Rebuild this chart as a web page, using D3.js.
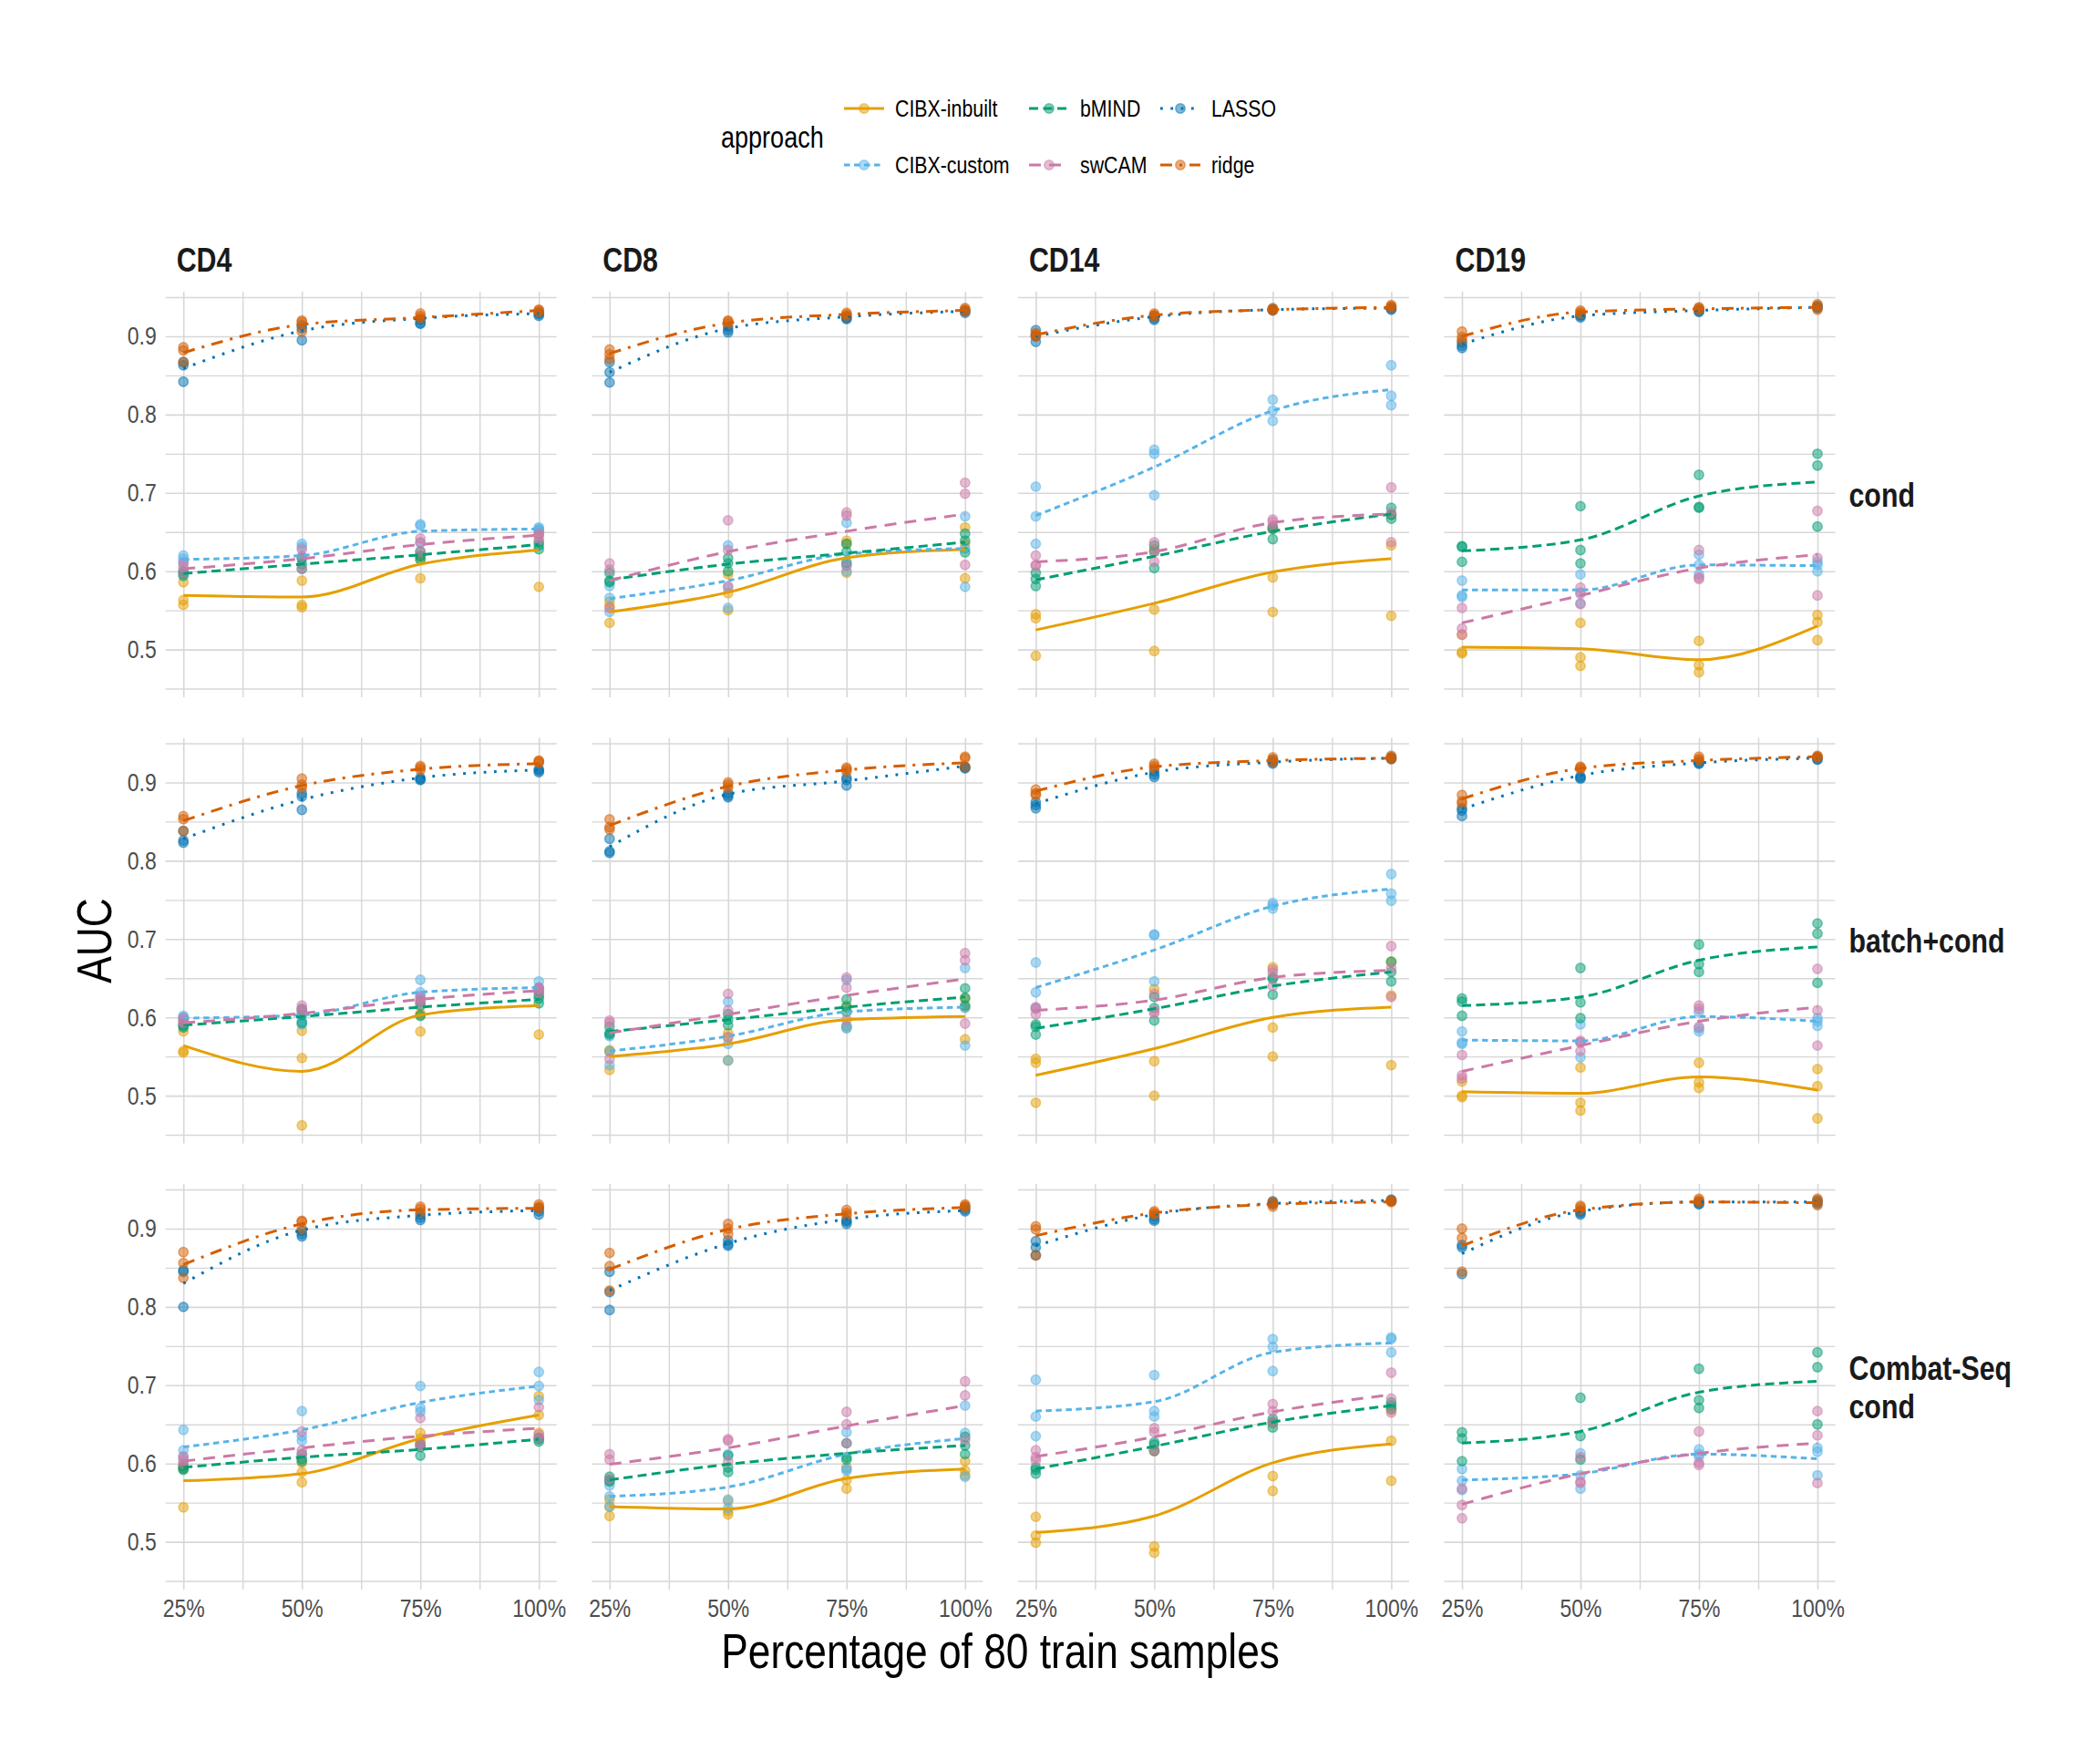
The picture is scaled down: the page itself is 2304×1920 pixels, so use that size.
<!DOCTYPE html>
<html>
<head>
<meta charset="utf-8">
<script src="https://cdn.jsdelivr.net/npm/d3@7"></script>
<style>
  body { margin: 0; background: #fff; }
  text { font-family: "Liberation Sans", Arial, sans-serif; }
</style>
</head>
<body>
<div id="chart"></div>
<script>
// facets and levels
const approaches = ['CIBX-inbuilt', 'CIBX-custom', 'bMIND', 'swCAM', 'LASSO', 'ridge'];
const cellTypes = ['CD4', 'CD8', 'CD14', 'CD19'];
const designs = [['cond'], ['batch+cond'], ['Combat-Seq', 'cond']];
const pctLevels = [25, 50, 75, 100];
const xTickLabels = ['25%', '50%', '75%', '100%'];
const yTicks = [0.5, 0.6, 0.7, 0.8, 0.9];

// points: one entry per panel (cond CD4..CD19, batch+cond CD4..CD19, Combat-Seq CD4..CD19),
// each with 3 replicate AUCs at 25/50/75/100 %
const inbuiltPts = [
  [[0.586,0.563,0.557],[0.588,0.557,0.554],[0.620,0.615,0.591],[0.652,0.648,0.580]],
  [[0.561,0.555,0.534],[0.596,0.572,0.550],[0.639,0.635,0.598],[0.656,0.635,0.591]],
  [[0.545,0.540,0.492],[0.628,0.551,0.498],[0.654,0.592,0.548],[0.672,0.633,0.543]],
  [[0.519,0.497,0.495],[0.534,0.490,0.479],[0.511,0.480,0.471],[0.544,0.535,0.512]],
  [[0.582,0.557,0.555],[0.583,0.548,0.462],[0.605,0.603,0.582],[0.635,0.632,0.578]],
  [[0.558,0.556,0.533],[0.580,0.574,0.545],[0.615,0.589,0.587],[0.624,0.613,0.572]],
  [[0.547,0.542,0.491],[0.636,0.544,0.500],[0.664,0.587,0.550],[0.671,0.628,0.539]],
  [[0.518,0.500,0.498],[0.536,0.491,0.481],[0.542,0.517,0.510],[0.534,0.512,0.471]],
  [[0.596,0.593,0.544],[0.601,0.589,0.576],[0.639,0.632,0.626],[0.686,0.662,0.639]],
  [[0.554,0.545,0.533],[0.552,0.539,0.535],[0.595,0.579,0.568],[0.603,0.591,0.585]],
  [[0.532,0.508,0.499],[0.616,0.494,0.486],[0.651,0.584,0.565],[0.668,0.629,0.578]],
  null
];
const customPts = [
  [[0.620,0.616,0.612],[0.635,0.631,0.618],[0.660,0.658,0.636],[0.656,0.654,0.652]],
  [[0.581,0.566,0.548],[0.633,0.579,0.553],[0.662,0.608,0.600],[0.670,0.629,0.580]],
  [[0.708,0.670,0.635],[0.755,0.750,0.697],[0.819,0.805,0.792],[0.863,0.824,0.812]],
  [[0.588,0.569,0.567],[0.596,0.573,0.559],[0.621,0.608,0.596],[0.612,0.608,0.600]],
  [[0.602,0.600,0.597],[0.611,0.595,0.591],[0.648,0.632,0.628],[0.646,0.638,0.634]],
  [[0.576,0.557,0.539],[0.620,0.566,0.545],[0.648,0.589,0.586],[0.663,0.612,0.564]],
  [[0.670,0.632,0.612],[0.706,0.705,0.646],[0.746,0.743,0.739],[0.783,0.758,0.749]],
  [[0.582,0.568,0.566],[0.591,0.568,0.549],[0.607,0.586,0.582],[0.599,0.595,0.589]],
  [[0.643,0.617,0.608],[0.667,0.635,0.629],[0.699,0.671,0.666],[0.717,0.699,0.681]],
  [[0.572,0.558,0.545],[0.612,0.554,0.543],[0.640,0.593,0.591],[0.674,0.639,0.583]],
  [[0.707,0.660,0.635],[0.713,0.667,0.660],[0.759,0.749,0.718],[0.761,0.759,0.742]],
  [[0.593,0.578,0.566],[0.613,0.585,0.568],[0.618,0.612,0.609],[0.620,0.615,0.585]]
];
const bmindPts = [
  [[0.600,0.597,0.594],[0.616,0.609,0.603],[0.625,0.619,0.615],[0.637,0.633,0.628]],
  [[0.598,0.588,0.586],[0.617,0.610,0.600],[0.635,0.625,0.611],[0.648,0.639,0.624]],
  [[0.598,0.590,0.581],[0.633,0.625,0.604],[0.656,0.654,0.641],[0.681,0.672,0.667]],
  [[0.632,0.631,0.612],[0.683,0.627,0.610],[0.723,0.682,0.681],[0.750,0.735,0.657]],
  [[0.591,0.589,0.587],[0.609,0.603,0.593],[0.620,0.615,0.602],[0.628,0.624,0.618]],
  [[0.588,0.580,0.578],[0.604,0.597,0.590],[0.623,0.613,0.607],[0.637,0.625,0.615]],
  [[0.591,0.588,0.578],[0.626,0.612,0.596],[0.651,0.649,0.629],[0.671,0.658,0.646]],
  [[0.624,0.620,0.602],[0.663,0.619,0.599],[0.693,0.668,0.658],[0.720,0.707,0.644]],
  [[0.597,0.594,0.592],[0.612,0.606,0.603],[0.624,0.621,0.610],[0.633,0.631,0.628]],
  [[0.583,0.579,0.577],[0.610,0.595,0.589],[0.626,0.608,0.605],[0.634,0.623,0.612]],
  [[0.595,0.592,0.587],[0.627,0.624,0.616],[0.657,0.653,0.646],[0.678,0.674,0.670]],
  [[0.640,0.632,0.603],[0.684,0.635,0.605],[0.721,0.681,0.671],[0.742,0.723,0.650]]
];
const swcamPts = [
  [[0.610,0.605,0.598],[0.628,0.619,0.603],[0.642,0.637,0.625],[0.648,0.645,0.640]],
  [[0.610,0.602,0.553],[0.665,0.627,0.581],[0.675,0.671,0.607],[0.713,0.699,0.608]],
  [[0.620,0.608,0.607],[0.637,0.625,0.612],[0.666,0.663,0.658],[0.707,0.675,0.637]],
  [[0.553,0.527,0.519],[0.579,0.571,0.558],[0.627,0.592,0.590],[0.677,0.617,0.569]],
  [[0.599,0.595,0.593],[0.615,0.611,0.607],[0.626,0.623,0.618],[0.638,0.636,0.632]],
  [[0.596,0.593,0.547],[0.630,0.609,0.575],[0.651,0.638,0.597],[0.682,0.673,0.592]],
  [[0.613,0.611,0.604],[0.630,0.608,0.605],[0.661,0.657,0.640],[0.691,0.663,0.626]],
  [[0.552,0.526,0.522],[0.570,0.568,0.557],[0.615,0.611,0.588],[0.662,0.609,0.564]],
  [[0.609,0.604,0.600],[0.641,0.617,0.612],[0.658,0.626,0.623],[0.672,0.637,0.633]],
  [[0.612,0.605,0.580],[0.631,0.629,0.603],[0.666,0.650,0.626],[0.705,0.687,0.630]],
  [[0.617,0.608,0.604],[0.645,0.640,0.617],[0.676,0.667,0.653],[0.716,0.683,0.665]],
  [[0.568,0.547,0.530],[0.608,0.577,0.575],[0.641,0.601,0.598],[0.667,0.636,0.575]]
];
const lassoPts = [
  [[0.867,0.863,0.842],[0.914,0.910,0.895],[0.921,0.917,0.916],[0.930,0.928,0.926]],
  [[0.867,0.854,0.841],[0.912,0.908,0.905],[0.925,0.923,0.922],[0.933,0.932,0.930]],
  [[0.908,0.900,0.893],[0.926,0.923,0.921],[0.935,0.934,0.933],[0.937,0.935,0.934]],
  [[0.892,0.888,0.885],[0.927,0.926,0.924],[0.934,0.932,0.931],[0.939,0.937,0.936]],
  [[0.838,0.826,0.823],[0.886,0.882,0.865],[0.906,0.904,0.903],[0.917,0.915,0.913]],
  [[0.828,0.812,0.810],[0.886,0.883,0.881],[0.906,0.903,0.896],[0.920,0.919,0.918]],
  [[0.875,0.871,0.867],[0.914,0.910,0.907],[0.929,0.926,0.924],[0.932,0.931,0.930]],
  [[0.867,0.864,0.857],[0.908,0.906,0.905],[0.926,0.924,0.924],[0.932,0.930,0.929]],
  [[0.847,0.845,0.800],[0.897,0.893,0.890],[0.918,0.914,0.911],[0.926,0.922,0.918]],
  [[0.845,0.819,0.796],[0.885,0.880,0.878],[0.911,0.909,0.906],[0.927,0.924,0.922]],
  [[0.884,0.876,0.866],[0.916,0.912,0.910],[0.935,0.933,0.931],[0.937,0.936,0.935]],
  [[0.879,0.876,0.842],[0.922,0.920,0.918],[0.934,0.932,0.931],[0.936,0.934,0.932]]
];
const ridgePts = [
  [[0.886,0.882,0.867],[0.920,0.918,0.906],[0.929,0.926,0.923],[0.934,0.933,0.931]],
  [[0.883,0.877,0.871],[0.920,0.919,0.916],[0.930,0.928,0.926],[0.936,0.934,0.932]],
  [[0.904,0.902,0.900],[0.929,0.927,0.925],[0.936,0.934,0.933],[0.940,0.938,0.937]],
  [[0.906,0.899,0.895],[0.933,0.931,0.929],[0.937,0.936,0.934],[0.941,0.938,0.934]],
  [[0.857,0.853,0.838],[0.905,0.897,0.893],[0.921,0.919,0.916],[0.928,0.927,0.925]],
  [[0.853,0.843,0.840],[0.900,0.897,0.893],[0.919,0.917,0.914],[0.933,0.931,0.920]],
  [[0.891,0.886,0.884],[0.924,0.921,0.918],[0.932,0.929,0.926],[0.934,0.932,0.930]],
  [[0.884,0.876,0.873],[0.920,0.919,0.917],[0.933,0.930,0.928],[0.934,0.933,0.932]],
  [[0.870,0.856,0.837],[0.910,0.909,0.900],[0.928,0.925,0.921],[0.931,0.928,0.926]],
  [[0.869,0.852,0.821],[0.906,0.900,0.893],[0.924,0.920,0.917],[0.931,0.929,0.927]],
  [[0.903,0.899,0.866],[0.922,0.920,0.918],[0.934,0.932,0.928],[0.936,0.935,0.934]],
  [[0.900,0.888,0.845],[0.929,0.927,0.924],[0.938,0.936,0.934],[0.938,0.935,0.930]]
];

// smoothed trend at 25/50/75/100 %
const inbuiltFit = [
  [0.569,0.567,0.609,0.627],[0.548,0.573,0.617,0.628],[0.525,0.559,0.599,0.616],[0.503,0.501,0.487,0.530],
  [0.564,0.531,0.603,0.615],[0.550,0.566,0.597,0.601],[0.526,0.560,0.600,0.613],[0.505,0.503,0.524,0.507],
  [0.578,0.587,0.632,0.662],[0.545,0.542,0.581,0.593],[0.512,0.533,0.601,0.625],null
];
const customFit = [
  [0.615,0.620,0.651,0.654],[0.565,0.588,0.622,0.629],[0.671,0.733,0.805,0.832],[0.576,0.576,0.608,0.607],
  [0.599,0.603,0.632,0.638],[0.557,0.576,0.607,0.613],[0.638,0.686,0.742,0.764],[0.571,0.570,0.601,0.595],
  [0.621,0.643,0.678,0.699],[0.558,0.570,0.612,0.632],[0.667,0.679,0.742,0.754],[0.579,0.587,0.612,0.606]
];
const bmindFit = [
  [0.597,0.609,0.621,0.634],[0.589,0.609,0.623,0.637],[0.589,0.619,0.651,0.673],[0.626,0.640,0.696,0.714],
  [0.590,0.601,0.613,0.623],[0.582,0.597,0.613,0.626],[0.586,0.611,0.640,0.658],[0.615,0.626,0.673,0.690],
  [0.595,0.608,0.618,0.631],[0.579,0.599,0.613,0.623],[0.593,0.622,0.653,0.674],[0.626,0.641,0.691,0.705]
];
const swcamFit = [
  [0.603,0.616,0.634,0.646],[0.588,0.625,0.651,0.673],[0.612,0.625,0.662,0.673],[0.534,0.569,0.604,0.621],
  [0.593,0.605,0.623,0.634],[0.580,0.604,0.628,0.649],[0.609,0.622,0.651,0.660],[0.531,0.564,0.595,0.613],
  [0.603,0.620,0.635,0.645],[0.599,0.620,0.648,0.674],[0.609,0.634,0.666,0.688],[0.548,0.587,0.613,0.626]
];
const lassoFit = [
  [0.859,0.907,0.923,0.929],[0.854,0.910,0.925,0.932],[0.900,0.925,0.934,0.936],[0.890,0.926,0.933,0.937],
  [0.828,0.878,0.906,0.916],[0.818,0.885,0.902,0.921],[0.873,0.913,0.926,0.931],[0.866,0.909,0.925,0.931],
  [0.830,0.898,0.917,0.923],[0.821,0.881,0.912,0.923],[0.878,0.918,0.932,0.936],[0.868,0.922,0.934,0.934]
];
const ridgeFit = [
  [0.879,0.915,0.924,0.933],[0.878,0.917,0.928,0.933],[0.902,0.927,0.934,0.937],[0.900,0.931,0.935,0.937],
  [0.851,0.896,0.917,0.924],[0.845,0.895,0.916,0.925],[0.889,0.920,0.928,0.931],[0.879,0.918,0.928,0.933],
  [0.854,0.906,0.924,0.926],[0.848,0.899,0.919,0.927],[0.891,0.920,0.931,0.934],[0.878,0.924,0.934,0.933]
];

const allPts = [inbuiltPts, customPts, bmindPts, swcamPts, lassoPts, ridgePts];
const allFit = [inbuiltFit, customFit, bmindFit, swcamFit, lassoFit, ridgeFit];

const colors = ['#E69F00', '#56B4E9', '#009E73', '#CC79A7', '#0072B2', '#D55E00'];
const dashes = [null, '6.5,4.5', '10,5.5', '13,9', '2.8,8.5', '13,8,3,8'];

const width = 2304, height = 1920;
const panelW = 429, panelH = 445;
const panelX0 = 181.7, panelDX = 467.6;
const panelY0 = 320, panelDY = 489.5;
const gridColor = '#d7d7d7';
const narrow = 0.82; // squeeze Liberation Sans to a narrow face

const svg = d3.select('#chart').append('svg')
  .attr('width', width).attr('height', height);
svg.append('rect').attr('width', width).attr('height', height).attr('fill', '#fff');

// text placed with a horizontal squeeze
function label(parent, tx, ty, str, size, opts = {}) {
  const t = parent.append('text')
    .attr('transform', `translate(${tx},${ty}) scale(${narrow},1)${opts.rotate ? ' rotate(' + opts.rotate + ')' : ''}`)
    .attr('text-anchor', opts.anchor || 'start')
    .style('font-size', size + 'px')
    .style('font-weight', opts.bold ? 'bold' : 'normal')
    .attr('fill', opts.fill || '#000')
    .text(str);
  return t;
}

const x = d3.scaleLinear().domain([21.25, 103.75]).range([0, panelW]);
const y = d3.scaleLinear().domain([0.439, 0.957]).range([panelH, 0]);

const line = d3.line()
  .x((d, i) => x(pctLevels[i]))
  .y(d => y(d))
  .curve(d3.curveMonotoneX);

designs.forEach((design, r) => {
  cellTypes.forEach((cell, c) => {
    const idx = r * 4 + c;
    const g = svg.append('g')
      .attr('transform', `translate(${panelX0 + c * panelDX},${panelY0 + r * panelDY})`);

    // grid: minor then major, through axes
    const yMinor = d3.range(0.45, 0.96, 0.1);
    const xMinor = [37.5, 62.5, 87.5];
    g.append('g').call(d3.axisLeft(y).tickValues(yMinor).tickSize(-panelW).tickFormat(''))
      .call(a => a.select('.domain').remove())
      .call(a => a.selectAll('line').attr('stroke', gridColor).attr('stroke-width', 1.4));
    g.append('g').call(d3.axisLeft(y).tickValues(yTicks).tickSize(-panelW).tickFormat(''))
      .call(a => a.select('.domain').remove())
      .call(a => a.selectAll('line').attr('stroke', gridColor).attr('stroke-width', 1.6));
    g.append('g').attr('transform', `translate(0,${panelH})`)
      .call(d3.axisBottom(x).tickValues(xMinor).tickSize(-panelH).tickFormat(''))
      .call(a => a.select('.domain').remove())
      .call(a => a.selectAll('line').attr('stroke', gridColor).attr('stroke-width', 1.4));
    g.append('g').attr('transform', `translate(0,${panelH})`)
      .call(d3.axisBottom(x).tickValues(pctLevels).tickSize(-panelH).tickFormat(''))
      .call(a => a.select('.domain').remove())
      .call(a => a.selectAll('line').attr('stroke', gridColor).attr('stroke-width', 1.6));

    // y tick labels on first column
    if (c === 0) {
      g.append('g')
        .call(d3.axisLeft(y).tickValues(yTicks).tickSize(0).tickPadding(10).tickFormat(d3.format('.1f')))
        .call(a => a.select('.domain').remove())
        .call(a => a.selectAll('text').attr('fill', '#4d4d4d').style('font-size', '28px')
          .attr('transform', `translate(-10,0) scale(${narrow},1)`).attr('x', 0));
    }
    // x tick labels on last row
    if (r === designs.length - 1) {
      g.append('g').attr('transform', `translate(0,${panelH})`)
        .call(d3.axisBottom(x).tickValues(pctLevels).tickSize(0).tickPadding(10)
          .tickFormat((d, i) => xTickLabels[i]))
        .call(a => a.select('.domain').remove())
        .call(a => a.selectAll('text').attr('fill', '#4d4d4d').style('font-size', '28px')
          .attr('transform', `scale(${narrow},1)`));
    }

    // points
    approaches.forEach((ap, k) => {
      const pts = allPts[k][idx];
      if (!pts) return;
      const flat = [];
      pts.forEach((reps, i) => reps.forEach(v => flat.push({ p: pctLevels[i], v })));
      g.append('g').selectAll('circle')
        .data(flat)
        .enter()
        .append('circle')
        .attr('cx', d => x(d.p))
        .attr('cy', d => y(d.v))
        .attr('r', 5.2)
        .attr('fill', colors[k])
        .attr('fill-opacity', 0.5)
        .attr('stroke', colors[k])
        .attr('stroke-opacity', 0.5)
        .attr('stroke-width', 1.5);
    });

    // smoothed lines
    approaches.forEach((ap, k) => {
      const fit = allFit[k][idx];
      if (!fit) return;
      g.append('path')
        .attr('d', line(fit))
        .attr('fill', 'none')
        .attr('stroke', colors[k])
        .attr('stroke-width', 3)
        .attr('stroke-dasharray', dashes[k]);
    });

    // column strip
    if (r === 0) {
      label(g, 12, -22, cell, 37, { bold: true, fill: '#1a1a1a' });
    }
    // row strip
    if (c === cellTypes.length - 1) {
      const lh = 42;
      const top = panelH / 2 - (design.length - 1) * lh / 2 + 13;
      design.forEach((s, i) => {
        label(g, panelW + 15, top + i * lh, s, 37, { bold: true, fill: '#1a1a1a' });
      });
    }
  });
});

// axis titles
const plotLeft = panelX0, plotRight = panelX0 + 3 * panelDX + panelW;
label(svg, (plotLeft + plotRight) / 2, 1830, 'Percentage of 80 train samples', 54, { anchor: 'middle' });
svg.append('text')
  .attr('transform', `translate(122,${panelY0 + (2 * panelDY + panelH) / 2}) rotate(-90) scale(${narrow},1)`)
  .attr('text-anchor', 'middle')
  .style('font-size', '54px').attr('fill', '#000')
  .text('AUC');

// legend
const legend = svg.append('g');
label(legend, 791, 162, 'approach', 33);
const keyCols = [926, 1129, 1273];
const keyRows = [119, 181];
approaches.forEach((ap, k) => {
  const col = Math.floor(k / 2), row = k % 2;
  const kx = keyCols[col], ky = keyRows[row];
  const kg = legend.append('g').attr('transform', `translate(${kx},${ky})`);
  kg.append('line')
    .attr('x1', 0).attr('x2', 44).attr('y1', 0).attr('y2', 0)
    .attr('stroke', colors[k]).attr('stroke-width', 3)
    .attr('stroke-dasharray', dashes[k]);
  kg.append('circle')
    .attr('cx', 22).attr('cy', 0).attr('r', 5.2)
    .attr('fill', colors[k]).attr('fill-opacity', 0.5)
    .attr('stroke', colors[k]).attr('stroke-opacity', 0.5).attr('stroke-width', 1.5);
  label(kg, 56, 9, ap, 26);
});
</script>
</body>
</html>
